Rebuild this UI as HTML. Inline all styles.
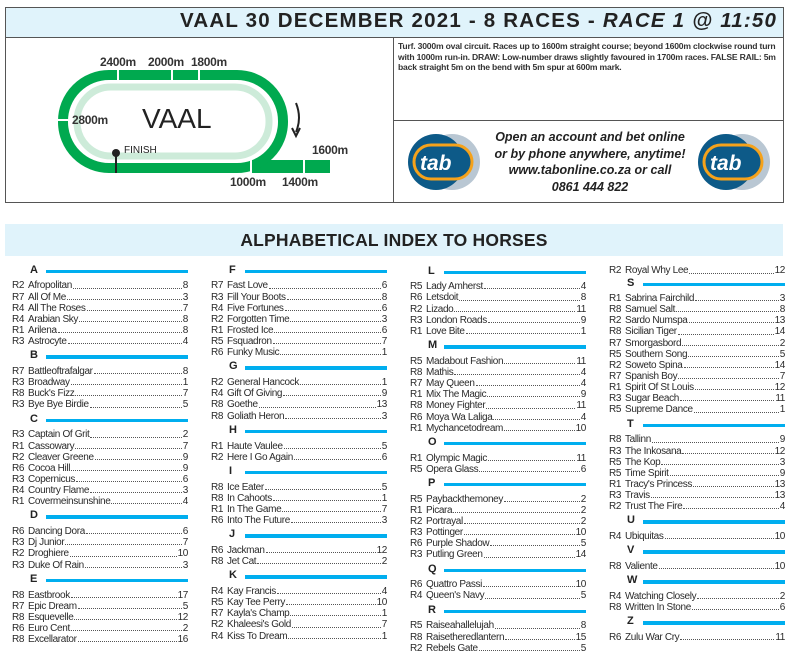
<!DOCTYPE html>
<html><head><meta charset="utf-8"><style>
*{margin:0;padding:0;box-sizing:border-box}
body{width:800px;height:666px;background:#fff;position:relative;overflow:hidden;font-family:"Liberation Sans",sans-serif;color:#333}
.abs{position:absolute}
.col{position:absolute;width:176px}
.h{height:18.8px;position:relative}
.h b{position:absolute;left:18px;top:2px;font-size:11px;font-weight:bold;color:#222}
.h i{position:absolute;left:34px;right:0;top:8px;height:3.5px;background:#00aeef}
.r{height:11.15px;display:flex;font-size:10px;line-height:11.15px;letter-spacing:-0.35px;white-space:nowrap;color:#2a2a2a}
.r .c{width:16px;flex:none}
.r .d{flex:1;border-bottom:1px dotted #555;margin:0 1px 3px 1px}
</style></head><body>
<!-- top box -->
<div class="abs" style="left:5px;top:7px;width:779px;height:196px;border:1px solid #555"></div>
<div class="abs" style="left:6px;top:8px;width:777px;height:30px;background:#e0f3fb;border-bottom:1px solid #555"></div>
<div class="abs" style="left:180px;top:9px;font-size:20.5px;font-weight:bold;color:#222;letter-spacing:1.2px;white-space:nowrap">VAAL 30 DECEMBER 2021 - 8 RACES - <i>RACE 1 @ 11:50</i></div>
<div class="abs" style="left:393px;top:38px;width:1px;height:165px;background:#555"></div>
<div class="abs" style="left:393px;top:120px;width:391px;height:1px;background:#555"></div>
<div class="abs" style="left:398px;top:41px;width:384px;font-size:8.6px;font-weight:bold;line-height:10.5px;letter-spacing:-0.2px;color:#333">Turf. 3000m oval circuit. Races up to 1600m straight course; beyond 1600m clockwise round turn with 1000m run-in. DRAW: Low-number draws slightly favoured in 1700m races. FALSE RAIL: 5m back straight 5m on the bend with 5m spur at 600m mark.</div>
<svg class="abs" style="left:0;top:0" width="400" height="205">
<rect x="250" y="160" width="80" height="13" fill="#00a94f"/>
<rect x="63" y="75" width="220" height="93" rx="46" fill="none" stroke="#00a94f" stroke-width="10"/>
<rect x="77" y="87" width="192" height="69" rx="34" fill="none" stroke="#cdebd9" stroke-width="7"/>
<g stroke="#fff" stroke-width="2">
<line x1="118" y1="68" x2="118" y2="82"/><line x1="172" y1="68" x2="172" y2="82"/><line x1="199" y1="68" x2="199" y2="82"/>
<line x1="55" y1="120" x2="70" y2="120"/><line x1="251" y1="158" x2="251" y2="175"/><line x1="304" y1="158" x2="304" y2="175"/>
</g>
<g font-family="Liberation Sans" font-size="12" font-weight="bold" fill="#333" letter-spacing="-0.3">
<text x="100" y="66">2400m</text><text x="148" y="66">2000m</text><text x="191" y="66">1800m</text>
<text x="72" y="124">2800m</text><text x="230" y="186">1000m</text><text x="282" y="186">1400m</text><text x="312" y="154">1600m</text>
</g>
<text x="142" y="128" font-family="Liberation Sans" font-size="28" fill="#222">VAAL</text>
<text x="124" y="153" font-family="Liberation Sans" font-size="10" fill="#222">FINISH</text>
<line x1="116" y1="152" x2="116" y2="173" stroke="#222" stroke-width="2"/>
<circle cx="116" cy="153" r="4" fill="#222"/>
<path d="M296 103 Q302 118 296 132" fill="none" stroke="#222" stroke-width="2"/>
<path d="M292 128 L296 136 L300 128" fill="none" stroke="#222" stroke-width="2"/>
</svg>
<!-- ad -->
<svg class="abs" style="left:400px;top:130px" width="90" height="65">
<circle cx="52" cy="32" r="28" fill="#b9c7d3"/><circle cx="36" cy="32" r="28" fill="#0d5a88"/>
<rect x="14" y="15" width="58" height="34" rx="17" fill="#0d5a88" stroke="#f5a21b" stroke-width="3"/>
<text x="20" y="40" font-family="Liberation Sans" font-size="21" font-weight="bold" font-style="italic" fill="#fff">tab</text>
</svg>
<svg class="abs" style="left:690px;top:130px" width="90" height="65">
<circle cx="52" cy="32" r="28" fill="#b9c7d3"/><circle cx="36" cy="32" r="28" fill="#0d5a88"/>
<rect x="14" y="15" width="58" height="34" rx="17" fill="#0d5a88" stroke="#f5a21b" stroke-width="3"/>
<text x="20" y="40" font-family="Liberation Sans" font-size="21" font-weight="bold" font-style="italic" fill="#fff">tab</text>
</svg>
<div class="abs" style="left:490px;top:129px;width:200px;text-align:center;font-size:12.5px;font-weight:bold;font-style:italic;line-height:16.6px;color:#222;white-space:nowrap">Open an account and bet online<br>or by phone anywhere, anytime!<br>www.tabonline.co.za or call<br>0861 444 822</div>
<!-- banner -->
<div class="abs" style="left:5px;top:224px;width:778px;height:32px;background:#e0f3fb"></div>
<div class="abs" style="left:5px;top:230px;width:778px;text-align:center;font-size:17.5px;font-weight:bold;color:#222;letter-spacing:0.2px">ALPHABETICAL INDEX TO HORSES</div>

<div class="col" style="left:12px;top:261.6px">
<div class="h"><b>A</b><i></i></div>
<div class="r"><span class="c">R2</span>Afropolitan<span class="d"></span>8</div>
<div class="r"><span class="c">R7</span>All Of Me<span class="d"></span>3</div>
<div class="r"><span class="c">R4</span>All The Roses<span class="d"></span>7</div>
<div class="r"><span class="c">R4</span>Arabian Sky<span class="d"></span>8</div>
<div class="r"><span class="c">R1</span>Arilena<span class="d"></span>8</div>
<div class="r"><span class="c">R3</span>Astrocyte<span class="d"></span>4</div>
<div class="h"><b>B</b><i></i></div>
<div class="r"><span class="c">R7</span>Battleoftrafalgar<span class="d"></span>8</div>
<div class="r"><span class="c">R3</span>Broadway<span class="d"></span>1</div>
<div class="r"><span class="c">R8</span>Buck's Fizz<span class="d"></span>7</div>
<div class="r"><span class="c">R3</span>Bye Bye Birdie<span class="d"></span>5</div>
<div class="h"><b>C</b><i></i></div>
<div class="r"><span class="c">R3</span>Captain Of Grit<span class="d"></span>2</div>
<div class="r"><span class="c">R1</span>Cassowary<span class="d"></span>7</div>
<div class="r"><span class="c">R2</span>Cleaver Greene<span class="d"></span>9</div>
<div class="r"><span class="c">R6</span>Cocoa Hill<span class="d"></span>9</div>
<div class="r"><span class="c">R3</span>Copernicus<span class="d"></span>6</div>
<div class="r"><span class="c">R4</span>Country Flame<span class="d"></span>3</div>
<div class="r"><span class="c">R1</span>Covermeinsunshine<span class="d"></span>4</div>
<div class="h"><b>D</b><i></i></div>
<div class="r"><span class="c">R6</span>Dancing Dora<span class="d"></span>6</div>
<div class="r"><span class="c">R3</span>Dj Junior<span class="d"></span>7</div>
<div class="r"><span class="c">R2</span>Droghiere<span class="d"></span>10</div>
<div class="r"><span class="c">R3</span>Duke Of Rain<span class="d"></span>3</div>
<div class="h"><b>E</b><i></i></div>
<div class="r"><span class="c">R8</span>Eastbrook<span class="d"></span>17</div>
<div class="r"><span class="c">R7</span>Epic Dream<span class="d"></span>5</div>
<div class="r"><span class="c">R8</span>Esquevelle<span class="d"></span>12</div>
<div class="r"><span class="c">R6</span>Euro Cent<span class="d"></span>2</div>
<div class="r"><span class="c">R8</span>Excellarator<span class="d"></span>16</div>
</div>

<div class="col" style="left:211px;top:261.6px">
<div class="h"><b>F</b><i></i></div>
<div class="r"><span class="c">R7</span>Fast Love<span class="d"></span>6</div>
<div class="r"><span class="c">R3</span>Fill Your Boots<span class="d"></span>8</div>
<div class="r"><span class="c">R4</span>Five Fortunes<span class="d"></span>6</div>
<div class="r"><span class="c">R2</span>Forgotten Time<span class="d"></span>3</div>
<div class="r"><span class="c">R1</span>Frosted Ice<span class="d"></span>6</div>
<div class="r"><span class="c">R5</span>Fsquadron<span class="d"></span>7</div>
<div class="r"><span class="c">R6</span>Funky Music<span class="d"></span>1</div>
<div class="h"><b>G</b><i></i></div>
<div class="r"><span class="c">R2</span>General Hancock<span class="d"></span>1</div>
<div class="r"><span class="c">R4</span>Gift Of Giving<span class="d"></span>9</div>
<div class="r"><span class="c">R8</span>Goethe<span class="d"></span>13</div>
<div class="r"><span class="c">R8</span>Goliath Heron<span class="d"></span>3</div>
<div class="h"><b>H</b><i></i></div>
<div class="r"><span class="c">R1</span>Haute Vaulee<span class="d"></span>5</div>
<div class="r"><span class="c">R2</span>Here I Go Again<span class="d"></span>6</div>
<div class="h"><b>I</b><i></i></div>
<div class="r"><span class="c">R8</span>Ice Eater<span class="d"></span>5</div>
<div class="r"><span class="c">R8</span>In Cahoots<span class="d"></span>1</div>
<div class="r"><span class="c">R1</span>In The Game<span class="d"></span>7</div>
<div class="r"><span class="c">R6</span>Into The Future<span class="d"></span>3</div>
<div class="h"><b>J</b><i></i></div>
<div class="r"><span class="c">R6</span>Jackman<span class="d"></span>12</div>
<div class="r"><span class="c">R8</span>Jet Cat<span class="d"></span>2</div>
<div class="h"><b>K</b><i></i></div>
<div class="r"><span class="c">R4</span>Kay Francis<span class="d"></span>4</div>
<div class="r"><span class="c">R5</span>Kay Tee Perry<span class="d"></span>10</div>
<div class="r"><span class="c">R7</span>Kayla's Champ<span class="d"></span>1</div>
<div class="r"><span class="c">R2</span>Khaleesi's Gold<span class="d"></span>7</div>
<div class="r"><span class="c">R4</span>Kiss To Dream<span class="d"></span>1</div>
</div>

<div class="col" style="left:410px;top:262.5px">
<div class="h"><b>L</b><i></i></div>
<div class="r"><span class="c">R5</span>Lady Amherst<span class="d"></span>4</div>
<div class="r"><span class="c">R6</span>Letsdoit<span class="d"></span>8</div>
<div class="r"><span class="c">R2</span>Lizado<span class="d"></span>11</div>
<div class="r"><span class="c">R3</span>London Roads<span class="d"></span>9</div>
<div class="r"><span class="c">R1</span>Love Bite<span class="d"></span>1</div>
<div class="h"><b>M</b><i></i></div>
<div class="r"><span class="c">R5</span>Madabout Fashion<span class="d"></span>11</div>
<div class="r"><span class="c">R8</span>Mathis<span class="d"></span>4</div>
<div class="r"><span class="c">R7</span>May Queen<span class="d"></span>4</div>
<div class="r"><span class="c">R1</span>Mix The Magic<span class="d"></span>9</div>
<div class="r"><span class="c">R8</span>Money Fighter<span class="d"></span>11</div>
<div class="r"><span class="c">R6</span>Moya Wa Laliga<span class="d"></span>4</div>
<div class="r"><span class="c">R1</span>Mychancetodream<span class="d"></span>10</div>
<div class="h"><b>O</b><i></i></div>
<div class="r"><span class="c">R1</span>Olympic Magic<span class="d"></span>11</div>
<div class="r"><span class="c">R5</span>Opera Glass<span class="d"></span>6</div>
<div class="h"><b>P</b><i></i></div>
<div class="r"><span class="c">R5</span>Paybackthemoney<span class="d"></span>2</div>
<div class="r"><span class="c">R1</span>Picara<span class="d"></span>2</div>
<div class="r"><span class="c">R2</span>Portrayal<span class="d"></span>2</div>
<div class="r"><span class="c">R3</span>Pottinger<span class="d"></span>10</div>
<div class="r"><span class="c">R6</span>Purple Shadow<span class="d"></span>5</div>
<div class="r"><span class="c">R3</span>Putling Green<span class="d"></span>14</div>
<div class="h"><b>Q</b><i></i></div>
<div class="r"><span class="c">R6</span>Quattro Passi<span class="d"></span>10</div>
<div class="r"><span class="c">R4</span>Queen's Navy<span class="d"></span>5</div>
<div class="h"><b>R</b><i></i></div>
<div class="r"><span class="c">R5</span>Raiseahallelujah<span class="d"></span>8</div>
<div class="r"><span class="c">R8</span>Raisetheredlantern<span class="d"></span>15</div>
<div class="r"><span class="c">R2</span>Rebels Gate<span class="d"></span>5</div>
</div>

<div class="col" style="left:609px;top:265.4px">
<div class="r"><span class="c">R2</span>Royal Why Lee<span class="d"></span>12</div>
<div class="h" style="height:16.5px"><b style="top:0">S</b><i style="top:6px"></i></div>
<div class="r"><span class="c">R1</span>Sabrina Fairchild<span class="d"></span>3</div>
<div class="r"><span class="c">R8</span>Samuel Salt<span class="d"></span>8</div>
<div class="r"><span class="c">R2</span>Sardo Numspa<span class="d"></span>13</div>
<div class="r"><span class="c">R8</span>Sicilian Tiger<span class="d"></span>14</div>
<div class="r"><span class="c">R7</span>Smorgasbord<span class="d"></span>2</div>
<div class="r"><span class="c">R5</span>Southern Song<span class="d"></span>5</div>
<div class="r"><span class="c">R2</span>Soweto Spina<span class="d"></span>14</div>
<div class="r"><span class="c">R7</span>Spanish Boy<span class="d"></span>7</div>
<div class="r"><span class="c">R1</span>Spirit Of St Louis<span class="d"></span>12</div>
<div class="r"><span class="c">R3</span>Sugar Beach<span class="d"></span>11</div>
<div class="r"><span class="c">R5</span>Supreme Dance<span class="d"></span>1</div>
<div class="h"><b>T</b><i></i></div>
<div class="r"><span class="c">R8</span>Tallinn<span class="d"></span>9</div>
<div class="r"><span class="c">R3</span>The Inkosana<span class="d"></span>12</div>
<div class="r"><span class="c">R5</span>The Kop<span class="d"></span>3</div>
<div class="r"><span class="c">R5</span>Time Spirit<span class="d"></span>9</div>
<div class="r"><span class="c">R1</span>Tracy's Princess<span class="d"></span>13</div>
<div class="r"><span class="c">R3</span>Travis<span class="d"></span>13</div>
<div class="r"><span class="c">R2</span>Trust The Fire<span class="d"></span>4</div>
<div class="h"><b>U</b><i></i></div>
<div class="r"><span class="c">R4</span>Ubiquitas<span class="d"></span>10</div>
<div class="h"><b>V</b><i></i></div>
<div class="r"><span class="c">R8</span>Valiente<span class="d"></span>10</div>
<div class="h"><b>W</b><i></i></div>
<div class="r"><span class="c">R4</span>Watching Closely<span class="d"></span>2</div>
<div class="r"><span class="c">R8</span>Written In Stone<span class="d"></span>6</div>
<div class="h"><b>Z</b><i></i></div>
<div class="r"><span class="c">R6</span>Zulu War Cry<span class="d"></span>11</div>
</div>
</body></html>
